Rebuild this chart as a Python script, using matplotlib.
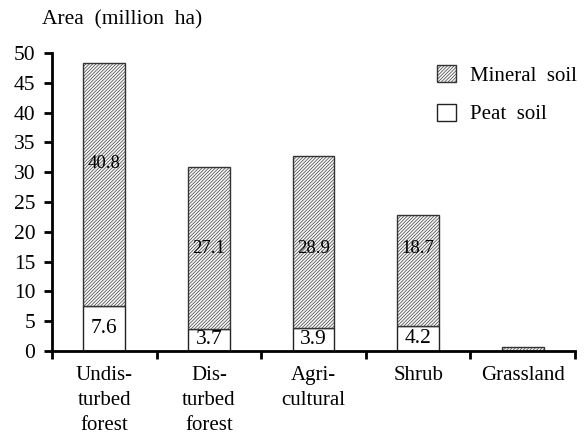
import numpy as np
import matplotlib
matplotlib.use("Agg")
import matplotlib.pyplot as plt
from matplotlib.patches import Patch

plt.rcParams['font.family'] = ['Liberation Serif', 'DejaVu Serif']
plt.rcParams['hatch.color'] = '#b4b4b4'
plt.rcParams['hatch.linewidth'] = 0.45

categories = ["Undis-\nturbed\nforest", "Dis-\nturbed\nforest", "Agri-\ncultural", "Shrub", "Grassland"]
peat = [7.6, 3.7, 3.9, 4.2, 0.0]
mineral = [40.8, 27.1, 28.9, 18.7, 0.7]
peat_labels = ["7.6", "3.7", "3.9", "4.2", ""]
mineral_labels = ["40.8", "27.1", "28.9", "18.7", ""]
mineral_label_y = [31.5, 17.2, 17.2, 17.2, 0]
yticks = [0, 5, 10, 15, 20, 25, 30, 35, 40, 45, 50]

HATCH = '/' * 10
MIN_FACE = '#f4f4f4'

fig = plt.figure(figsize=(5.85, 4.37), dpi=100)
ax = fig.add_axes([52/585, 1 - 351/437, (575-52)/585, (351-53)/437])

x = np.arange(len(categories))
w = 0.40
ax.bar(x, peat, w, color='white', edgecolor='#222222', linewidth=1.0, zorder=2)
ax.bar(x, mineral, w, bottom=peat, color=MIN_FACE, edgecolor='#333333',
       hatch=HATCH, linewidth=1.0, zorder=2)

for xi, p, lab in zip(x, peat, peat_labels):
    if lab:
        ax.text(xi, p / 2, lab, ha='center', va='center', fontsize=15.5, zorder=3)
for xi, yl, lab in zip(x, mineral_label_y, mineral_labels):
    if lab:
        ax.text(xi, yl, lab, ha='center', va='center', fontsize=13.5, zorder=3)

ax.set_xlim(-0.5, 4.5)
ax.set_ylim(0, 50)
ax.set_yticks(yticks)
ax.tick_params(axis='y', direction='out', length=6, width=2, labelsize=15.5, pad=6)
ax.set_xticks(x)
ax.set_xticklabels(categories, fontsize=15, linespacing=1.42, va='top')
ax.tick_params(axis='x', which='major', length=0, pad=11)
ax.set_xticks(np.arange(-0.5, 5.0, 1.0), minor=True)
ax.tick_params(axis='x', which='minor', direction='out', length=6, width=2)

for s in ['top', 'right']:
    ax.spines[s].set_visible(False)
ax.spines['left'].set_linewidth(2)
ax.spines['bottom'].set_linewidth(2)

handles = [Patch(facecolor=MIN_FACE, edgecolor='#333333', hatch=HATCH, label='Mineral  soil'),
           Patch(facecolor='white', edgecolor='#222222', label='Peat  soil')]
fig.legend(handles=handles, loc='upper left', bbox_to_anchor=(437/585, 1 - 65/437),
           frameon=False, fontsize=15, handlelength=0.9, handleheight=0.9,
           labelspacing=0.85, handletextpad=0.7, borderpad=0, borderaxespad=0)

fig.text(42/585, 1 - 20/437, "Area  (million  ha)", fontsize=15.5, ha='left', va='center')

fig.savefig("out.png", dpi=100)
